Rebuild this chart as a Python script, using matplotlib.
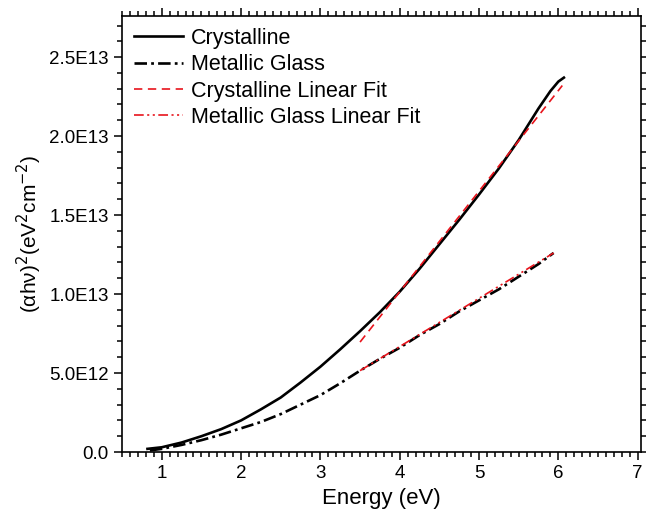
import matplotlib
matplotlib.use("Agg")
import matplotlib.pyplot as plt
from matplotlib.ticker import MultipleLocator, FuncFormatter

plt.rcParams['font.family'] = ['Liberation Sans', 'DejaVu Sans']
plt.rcParams['lines.scale_dashes'] = False

# data, values in units of 1E12
skala = 1e12
e_kryst = [0.82, 1.0, 1.25, 1.5, 1.75, 2.0, 2.25, 2.5, 2.75, 3.0, 3.25, 3.5, 3.75,
           4.0, 4.25, 4.5, 4.75, 5.0, 5.25, 5.5, 5.75, 5.9, 6.0, 6.07]
v_kryst = [0.2, 0.3, 0.6, 1.0, 1.45, 2.0, 2.7, 3.45, 4.4, 5.4, 6.5, 7.65, 8.85,
           10.15, 11.6, 13.15, 14.7, 16.3, 17.95, 19.75, 21.75, 22.85, 23.45, 23.7]
e_glass = [0.85, 1.0, 1.25, 1.5, 1.75, 2.0, 2.25, 2.5, 2.75, 3.0, 3.25, 3.5, 3.75,
           4.0, 4.25, 4.5, 4.75, 5.0, 5.25, 5.5, 5.75, 5.94]
v_glass = [0.1, 0.2, 0.45, 0.75, 1.1, 1.5, 1.9, 2.4, 3.0, 3.6, 4.35, 5.15, 5.9,
           6.6, 7.4, 8.1, 8.9, 9.6, 10.3, 11.1, 11.9, 12.6]
e_kryst_fit = [3.5, 6.05]
v_kryst_fit = [6.96, 23.2]
e_glass_fit = [3.5, 5.94]
v_glass_fit = [5.15, 12.6]

fig = plt.figure(figsize=(6.46, 5.17), dpi=100)
ax = fig.add_axes([0.189, 0.1257, 0.803, 0.8433])

ax.plot(e_kryst, [v * skala for v in v_kryst], color='black', lw=1.9, label='Crystalline')
ax.plot(e_glass, [v * skala for v in v_glass], color='black', lw=1.9,
        dashes=(9, 3, 2, 3), label='Metallic Glass')
ax.plot(e_kryst_fit, [v * skala for v in v_kryst_fit], color='#e8141c', lw=1.2,
        dashes=(6, 4), label='Crystalline Linear Fit')
ax.plot(e_glass_fit, [v * skala for v in v_glass_fit], color='#e8141c', lw=1.2,
        dashes=(7, 2.5, 1.5, 2.5, 1.5, 2.5), label='Metallic Glass Linear Fit')

ax.set_xlim(0.5, 7.04)
ax.set_ylim(0, 2.76e13)
ax.xaxis.set_major_locator(MultipleLocator(1))
ax.xaxis.set_minor_locator(MultipleLocator(0.1))
ax.yaxis.set_major_locator(MultipleLocator(5e12))
ax.yaxis.set_minor_locator(MultipleLocator(1e12))


def ytekst(v, pos):
    if v == 0:
        return '0.0'
    eks = 0
    m = v
    while m >= 10:
        m = m / 10
        eks += 1
    return '%.1fE%d' % (m, eks)


ax.yaxis.set_major_formatter(FuncFormatter(ytekst))
ax.tick_params(which='both', direction='out', top=True, right=True,
               labeltop=False, labelright=False, width=1.1, labelsize=13.5)
ax.tick_params(which='major', length=6)
ax.tick_params(which='minor', length=3.5)
for s in ax.spines.values():
    s.set_linewidth(1.2)

ax.set_xlabel('Energy (eV)', fontsize=16)
ax.set_ylabel(r'($\mathregular{\alpha}$h$\mathregular{\nu}$)$^2$(eV$^2$cm$^{-2}$)', fontsize=15)

ax.legend(loc='upper left', frameon=False, fontsize=15.5, handlelength=2.3,
          handletextpad=0.35, labelspacing=0.25, borderaxespad=0.0,
          borderpad=0.55)

fig.savefig('out.png', dpi=100)
